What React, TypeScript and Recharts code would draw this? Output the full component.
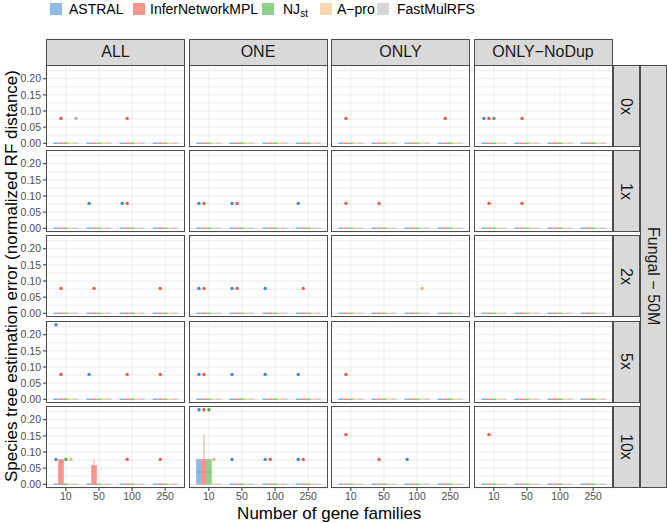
import { BarChart, Bar, XAxis, YAxis, CartesianGrid } from 'recharts';

// Methods (legend order = dodge order inside every gene-family group)
const methods = ['ASTRAL', 'InferNetworkMPL', 'NJst', 'A−pro', 'FastMulRFS'];
const methodKeys = ['astral', 'infer', 'njst', 'apro', 'fast'];
const boxFills = ['#8dbbe6', '#f7958e', '#8fd08f', '#fdd6b0', '#d6d6d6'];
const boxLines = ['#7fb1e2', '#f58a82', '#80c980', '#fccd9f', '#cccccc'];
const dotColors = ['#3f87d2', '#f2554b', '#4aa84a', '#fbb16f', '#b3b3b3'];

const geneFamilies = ['10', '50', '100', '250'];
const conditions = ['ALL', 'ONE', 'ONLY', 'ONLY−NoDup'];
const dupRates = ['0x', '1x', '2x', '5x', '10x'];
const yMajor = [0, 0.05, 0.1, 0.15, 0.2];
const yGrid = [0, 0.025, 0.05, 0.075, 0.1, 0.125, 0.15, 0.175, 0.2, 0.225];

// outlying replicates: [dup rate, condition, gene families, method index, RF error]
const outliers: [string, string, string, number, number][] = [
  ['0x', 'ALL', '10', 1, 0.077],
  ['0x', 'ALL', '10', 4, 0.077],
  ['0x', 'ALL', '100', 1, 0.077],
  ['0x', 'ONLY', '10', 1, 0.077],
  ['0x', 'ONLY', '250', 1, 0.077],
  ['0x', 'ONLY−NoDup', '10', 0, 0.077],
  ['0x', 'ONLY−NoDup', '10', 1, 0.077],
  ['0x', 'ONLY−NoDup', '10', 2, 0.077],
  ['0x', 'ONLY−NoDup', '50', 1, 0.077],

  ['1x', 'ALL', '50', 0, 0.077],
  ['1x', 'ALL', '100', 0, 0.077],
  ['1x', 'ALL', '100', 1, 0.077],
  ['1x', 'ONE', '10', 0, 0.077],
  ['1x', 'ONE', '10', 1, 0.077],
  ['1x', 'ONE', '50', 0, 0.077],
  ['1x', 'ONE', '50', 1, 0.077],
  ['1x', 'ONE', '250', 0, 0.077],
  ['1x', 'ONLY', '10', 1, 0.077],
  ['1x', 'ONLY', '50', 1, 0.077],
  ['1x', 'ONLY−NoDup', '10', 1, 0.077],
  ['1x', 'ONLY−NoDup', '50', 1, 0.077],

  ['2x', 'ALL', '10', 1, 0.077],
  ['2x', 'ALL', '50', 1, 0.077],
  ['2x', 'ALL', '250', 1, 0.077],
  ['2x', 'ONE', '10', 0, 0.077],
  ['2x', 'ONE', '10', 1, 0.077],
  ['2x', 'ONE', '50', 0, 0.077],
  ['2x', 'ONE', '50', 1, 0.077],
  ['2x', 'ONE', '100', 0, 0.077],
  ['2x', 'ONE', '250', 1, 0.077],
  ['2x', 'ONLY', '100', 3, 0.077],

  ['5x', 'ALL', '10', 0, 0.231],
  ['5x', 'ALL', '10', 1, 0.077],
  ['5x', 'ALL', '50', 0, 0.077],
  ['5x', 'ALL', '100', 1, 0.077],
  ['5x', 'ALL', '250', 1, 0.077],
  ['5x', 'ONE', '10', 0, 0.077],
  ['5x', 'ONE', '10', 1, 0.077],
  ['5x', 'ONE', '50', 0, 0.077],
  ['5x', 'ONE', '100', 0, 0.077],
  ['5x', 'ONE', '250', 0, 0.077],
  ['5x', 'ONLY', '10', 1, 0.077],

  ['10x', 'ALL', '10', 0, 0.077],
  ['10x', 'ALL', '10', 2, 0.077],
  ['10x', 'ALL', '10', 3, 0.077],
  ['10x', 'ALL', '100', 1, 0.077],
  ['10x', 'ALL', '250', 1, 0.077],
  ['10x', 'ONE', '10', 0, 0.231],
  ['10x', 'ONE', '10', 1, 0.231],
  ['10x', 'ONE', '10', 2, 0.231],
  ['10x', 'ONE', '10', 3, 0.077],
  ['10x', 'ONE', '50', 0, 0.077],
  ['10x', 'ONE', '100', 0, 0.077],
  ['10x', 'ONE', '100', 1, 0.077],
  ['10x', 'ONE', '250', 0, 0.077],
  ['10x', 'ONE', '250', 1, 0.077],
  ['10x', 'ONLY', '10', 1, 0.154],
  ['10x', 'ONLY', '50', 1, 0.077],
  ['10x', 'ONLY', '100', 0, 0.077],
  ['10x', 'ONLY−NoDup', '10', 1, 0.154],
];

// boxes that are not flat at zero: [dup rate, condition, gene families, method, q1, median, q3, upper whisker]
const boxes: [string, string, string, number, number, number, number, number][] = [
  ['10x', 'ALL', '10', 1, 0, 0, 0.077, 0.077],
  ['10x', 'ALL', '50', 1, 0, 0, 0.058, 0.077],
  ['10x', 'ONE', '10', 0, 0, 0.038, 0.077, 0.077],
  ['10x', 'ONE', '10', 1, 0, 0.038, 0.077, 0.154],
  ['10x', 'ONE', '10', 2, 0, 0.038, 0.077, 0.077],
];

const Y_MAX = 0.231 * 1.05;
const Y_MIN = -0.231 * 0.05;

const LEFT = 46;
const COL_W = 139;
const COL_STEP = 142.5;
const TOP = 65;
const ROW_H = 82;
const ROW_STEP = 85.2;
const FONT = '"Liberation Sans", Arial, Helvetica, sans-serif';
const BORDER = '#4d4d4d';

function panelData(rate: string, cond: string) {
  return geneFamilies.map((g) => {
    const row: any = { genes: g };
    methodKeys.forEach((k, m) => {
      const b = boxes.find((d) => d[0] === rate && d[1] === cond && d[2] === g && d[3] === m);
      const [q1, med, q3, wh] = b ? b.slice(4) : [0, 0, 0, 0];
      const outs = outliers
        .filter((d) => d[0] === rate && d[1] === cond && d[2] === g && d[3] === m)
        .map((d) => d[4])
        .sort((a, c) => a - c);
      row[`${k}_q1`] = q1;
      row[`${k}_q3`] = q3;
      row[`${k}_med`] = med;
      row[`${k}_lo`] = q1;
      row[`${k}_box`] = q3 - q1;
      row[`${k}_wh`] = wh - q3;
      row[`${k}_o1`] = outs.length > 0 ? outs[0] - wh : 0;
      row[`${k}_o2`] = outs.length > 1 ? outs[1] - outs[0] : 0;
    });
    return row;
  });
}

const emptyShape = () => <g />;

const boxShape = (m: number) => (props: any) => {
  const { x, y, width, height, payload } = props;
  const k = methodKeys[m];
  if (!(height > 0.5)) {
    return <line x1={x} x2={x + width} y1={y} y2={y} stroke={boxLines[m]} strokeWidth={1.4} />;
  }
  const q1 = payload[`${k}_q1`];
  const q3 = payload[`${k}_q3`];
  const med = payload[`${k}_med`];
  const my = y + (height * (q3 - med)) / (q3 - q1);
  return (
    <g>
      <rect x={x} y={y} width={width} height={height} fill={boxFills[m]} stroke={boxLines[m]} strokeWidth={0.5} />
      <line x1={x} x2={x + width} y1={my} y2={my} stroke={dotColors[m]} strokeOpacity={0.5} strokeWidth={1} />
    </g>
  );
};

const whiskerShape = (m: number) => (props: any) => {
  const { x, y, width, height } = props;
  if (!(height > 0.5)) return <g />;
  return <line x1={x + width / 2} x2={x + width / 2} y1={y} y2={y + height} stroke={boxLines[m]} strokeWidth={0.8} />;
};

const outlierShape = (m: number, key: string) => (props: any) => {
  const { x, y, width, payload } = props;
  if (!(payload[key] > 0)) return <g />;
  return <circle cx={x + width / 2} cy={y} r={1.7} fill={dotColors[m]} />;
};

// y tick: label + tick mark only on the major breaks, the minor ones only feed the grid
const YTick = (props: any) => {
  const { y, payload } = props;
  const v = payload.value;
  if (!yMajor.some((t) => Math.abs(t - v) < 1e-9)) return <g />;
  return (
    <g>
      <line x1={LEFT - 3} x2={LEFT} y1={y} y2={y} stroke="#333333" />
      <text x={LEFT - 5} y={y} dy="0.35em" textAnchor="end" fontSize={10.5} fill="#4d4d4d" fontFamily={FONT}>
        {v.toFixed(2)}
      </text>
    </g>
  );
};

function Panel({ r, c }: { r: number; c: number }) {
  const data = panelData(dupRates[r], conditions[c]);
  const showX = r === dupRates.length - 1;
  const showY = c === 0;
  const extraBottom = showX ? 24 : 8;
  const w = COL_W + (showY ? LEFT : 0);
  const h = ROW_H + extraBottom;
  const left = LEFT + c * COL_STEP - (showY ? LEFT : 0);
  const top = TOP + r * ROW_STEP;
  return (
    <div style={{ position: 'absolute', left, top, width: w, height: h }}>
      <BarChart
        width={w}
        height={h}
        data={data}
        margin={{ top: 0, right: 0, bottom: showX ? 0 : extraBottom, left: 0 }}
        barCategoryGap={4.15}
        barGap={0}
      >
        <CartesianGrid stroke="#ebebeb" strokeWidth={1} />
        <XAxis
          dataKey="genes"
          hide={!showX}
          height={24}
          interval={0}
          padding={{ left: 3.3, right: 3.3 }}
          axisLine={false}
          tickSize={3}
          tickMargin={2}
          tickLine={{ stroke: '#333333' }}
          tick={{ fontSize: 10.5, fill: '#4d4d4d', fontFamily: FONT }}
        />
        <YAxis
          type="number"
          domain={[Y_MIN, Y_MAX]}
          allowDataOverflow
          ticks={yGrid}
          interval={0}
          hide={!showY}
          width={LEFT}
          axisLine={false}
          tickLine={false}
          tick={<YTick />}
        />
        {methodKeys.map((k, m) => [
          <Bar key={`${k}lo`} dataKey={`${k}_lo`} stackId={k} shape={emptyShape} isAnimationActive={false} />,
          <Bar key={`${k}box`} dataKey={`${k}_box`} stackId={k} shape={boxShape(m)} isAnimationActive={false} />,
          <Bar key={`${k}wh`} dataKey={`${k}_wh`} stackId={k} shape={whiskerShape(m)} isAnimationActive={false} />,
          <Bar key={`${k}o1`} dataKey={`${k}_o1`} stackId={k} shape={outlierShape(m, `${k}_o1`)} isAnimationActive={false} />,
          <Bar key={`${k}o2`} dataKey={`${k}_o2`} stackId={k} shape={outlierShape(m, `${k}_o2`)} isAnimationActive={false} />,
        ])}
      </BarChart>
      <div
        style={{
          position: 'absolute',
          left: showY ? LEFT : 0,
          top: 0,
          width: COL_W,
          height: ROW_H,
          border: `1px solid ${BORDER}`,
          boxSizing: 'border-box',
          pointerEvents: 'none',
        }}
      />
    </div>
  );
}

const legendKeyX = [50, 133, 262, 320, 377];
const legendLabelX = [69, 150, 283, 337, 397];

export default function App() {
  const stripStyle: React.CSSProperties = {
    position: 'absolute',
    background: '#d9d9d9',
    border: `1px solid ${BORDER}`,
    boxSizing: 'border-box',
    color: '#1a1a1a',
    fontSize: 16,
    fontFamily: FONT,
    display: 'flex',
    alignItems: 'center',
    justifyContent: 'center',
  };
  const panelsBottom = TOP + (dupRates.length - 1) * ROW_STEP + ROW_H;
  return (
    <div
      style={{
        position: 'absolute',
        left: 0,
        top: 0,
        width: 667,
        height: 523,
        background: '#ffffff',
        overflow: 'hidden',
        fontFamily: FONT,
      }}
    >
      {/* legend */}
      {methods.map((name, m) => (
        <div key={name}>
          <div
            style={{
              position: 'absolute',
              left: legendKeyX[m],
              top: 3,
              width: 12,
              height: 12,
              background: boxFills[m],
            }}
          />
          <div
            style={{
              position: 'absolute',
              left: legendLabelX[m],
              top: 0,
              fontSize: 14,
              lineHeight: '18px',
              color: '#000',
              whiteSpace: 'nowrap',
            }}
          >
            {name === 'NJst' ? (
              <span>
                NJ<sub style={{ fontSize: 10, verticalAlign: -3 }}>st</sub>
              </span>
            ) : (
              name
            )}
          </div>
        </div>
      ))}

      {/* column strips */}
      {conditions.map((cond, c) => (
        <div
          key={cond}
          style={{ ...stripStyle, left: LEFT + c * COL_STEP, top: 38.5, width: COL_W, height: 27 }}
        >
          {cond}
        </div>
      ))}

      {/* panels */}
      {dupRates.map((_, r) => conditions.map((__, c) => <Panel key={`${r}-${c}`} r={r} c={c} />))}

      {/* row strips */}
      {dupRates.map((rate, r) => (
        <div
          key={rate}
          style={{
            ...stripStyle,
            left: LEFT + 3 * COL_STEP + COL_W,
            top: TOP + r * ROW_STEP,
            width: 27,
            height: ROW_H,
            writingMode: 'vertical-rl',
          }}
        >
          {rate}
        </div>
      ))}
      <div
        style={{
          ...stripStyle,
          left: LEFT + 3 * COL_STEP + COL_W + 27,
          top: TOP,
          width: 27,
          height: panelsBottom - TOP,
          writingMode: 'vertical-rl',
        }}
      >
        Fungal − 50M
      </div>

      {/* axis titles */}
      <div
        style={{
          position: 'absolute',
          left: 12,
          top: (TOP + panelsBottom) / 2,
          transform: 'translate(-50%, -50%) rotate(-90deg)',
          fontSize: 17,
          whiteSpace: 'nowrap',
          color: '#000',
        }}
      >
        Species tree estimation error (normalized RF distance)
      </div>
      <div
        style={{
          position: 'absolute',
          left: LEFT + (3 * COL_STEP + COL_W) / 2,
          top: 504,
          transform: 'translateX(-50%)',
          fontSize: 17,
          whiteSpace: 'nowrap',
          color: '#000',
        }}
      >
        Number of gene families
      </div>
    </div>
  );
}
